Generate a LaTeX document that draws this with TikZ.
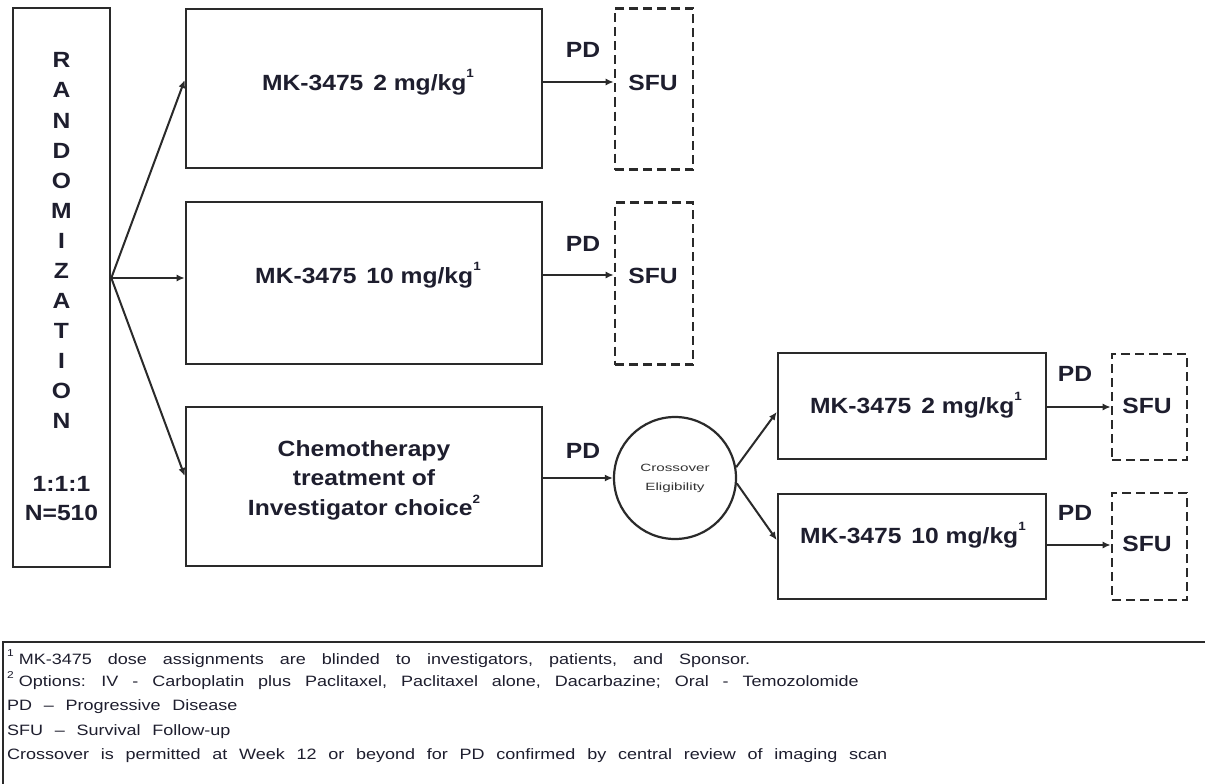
\documentclass[tikz,border=0pt]{standalone}
\usepackage{fontspec}
\setmainfont{Liberation Sans}[FakeStretch=1.12]
\newfontfamily\circfont{Liberation Sans}[FakeStretch=1.45]
\newfontfamily\footfont{Liberation Sans}[FakeStretch=1.2]
\usetikzlibrary{arrows.meta}
\definecolor{lc}{HTML}{2A2A2A}
\definecolor{tc}{HTML}{1E1E2E}
\definecolor{gc}{HTML}{333333}
\newcommand{\supone}[1]{\raisebox{0.55em}{\fontsize{12}{12}\selectfont #1}}
\newcommand{\supfoot}[1]{\raisebox{0.5em}{\fontsize{10}{10}\selectfont #1}\hspace{5pt}}
\newcommand{\footA}{\footfont\fontsize{15}{18}\selectfont\spaceskip 16pt\relax}
\newcommand{\footB}{\footfont\fontsize{15}{18}\selectfont\spaceskip 13.9pt\relax}
\newcommand{\footC}{\footfont\fontsize{15}{18}\selectfont\spaceskip 11.75pt\relax}
\begin{document}
\begin{tikzpicture}[x=1pt,y=-1pt,
  box/.style={draw=lc, line width=2.6pt, inner sep=0pt},
  sfubox/.style={draw=lc, line width=2.6pt, dash pattern=on 9pt off 5pt, inner sep=0pt},
  lab/.style={text=tc, font=\fontsize{22}{26}\selectfont\bfseries, inner sep=0pt, anchor=base},
  arr/.style={draw=lc, line width=2pt, -{Latex[length=8pt,width=7pt]}},
  foot/.style={text=tc, anchor=base west, inner sep=0pt, font=\footC}]
\useasboundingbox (0,0) rectangle (1205,784);
\fill[white] (0,0) rectangle (1205,784);

% randomization
\node[box, minimum width=97pt, minimum height=559pt] (rand) at (61.5,287.5) {};
\foreach \l [count=\i from 0] in {R,A,N,D,O,M,I,Z,A,T,I,O,N}
  \node[lab] (r\i) at (61.5, 68+30*\i) {\l};
\node[lab] (ratio) at (61.5, 491) {1:1:1};
\node[lab] (nn) at (61.5, 520) {N=510};

% arms
\node[box, minimum width=356pt, minimum height=159pt] (b1) at (364,88.5) {};
\node[box, minimum width=356pt, minimum height=162pt] (b2) at (364,283) {};
\node[box, minimum width=356pt, minimum height=159pt] (b3) at (364,486.5) {};
\node[lab] (t1) at (368,90) {MK-3475\hspace{0.45em}2 mg/kg\supone{1}};
\node[lab] (t2) at (368,283) {MK-3475\hspace{0.45em}10 mg/kg\supone{1}};
\node[lab, anchor=center, align=center, font=\fontsize{22}{29.5}\selectfont\bfseries] (t3) at (364,480)
  {Chemotherapy\\treatment of\\Investigator choice\supone{2}};

% SFU boxes
\node[sfubox, minimum width=78pt, minimum height=161pt] (s1) at (654,89) {};
\node[sfubox, minimum width=78pt, minimum height=162pt] (s2) at (654,283.5) {};
\node[lab] (sf1) at (653,90) {SFU};
\node[lab] (sf2) at (653,283) {SFU};

% PD labels
\node[lab] (pd1) at (583,58) {PD};
\node[lab] (pd2) at (583,251) {PD};
\node[lab] (pd3) at (583,458) {PD};
\node[lab] (pd4) at (1075,381) {PD};
\node[lab] (pd5) at (1075,520) {PD};

% circle
\node[draw=lc, line width=2.2pt, circle, minimum size=122pt, inner sep=0pt, align=center,
      text=gc, font=\circfont\fontsize{10.5}{19}\selectfont] (cx) at (675,478) {Crossover\\Eligibility};

% crossover arms
\node[box, minimum width=268pt, minimum height=106pt] (b4) at (912,406) {};
\node[box, minimum width=268pt, minimum height=105pt] (b5) at (912,546.5) {};
\node[lab] (t4) at (916,413) {MK-3475\hspace{0.45em}2 mg/kg\supone{1}};
\node[lab] (t5) at (913,543) {MK-3475\hspace{0.45em}10 mg/kg\supone{1}};
\node[sfubox, minimum width=75pt, minimum height=106pt] (s3) at (1149.5,407) {};
\node[sfubox, minimum width=75pt, minimum height=107pt] (s4) at (1149.5,546.5) {};
\node[lab] (sf3) at (1147,413) {SFU};
\node[lab] (sf4) at (1147,551) {SFU};

% connectors
\draw[arr] ([yshift=9.5pt]rand.east) -- ([yshift=8.5pt]b1.west);
\draw[arr] ([yshift=9.5pt]rand.east) -- ([yshift=5pt]b2.west);
\draw[arr] ([yshift=9.5pt]rand.east) -- ([yshift=10.5pt]b3.west);
\draw[arr] ([yshift=6.5pt]b1.east) -- ([yshift=7pt]s1.west);
\draw[arr] ([yshift=8pt]b2.east) -- ([yshift=8.5pt]s2.west);
\draw[arr] ([yshift=8.5pt]b3.east) -- (cx.west);
\draw[arr] (cx.10) -- ([yshift=-6pt]b4.west);
\draw[arr] (cx.-5) -- ([yshift=6.5pt]b5.west);
\draw[arr] ([yshift=-1pt]b4.east) -- (s3.west);
\draw[arr] ([yshift=1.5pt]b5.east) -- ([yshift=1.5pt]s4.west);

% footnote
\begin{scope}
\clip (0,0) rectangle (1205,784);
\node[draw=lc, line width=2.6pt, minimum width=1212pt, minimum height=156pt, inner sep=0pt] (fn) at (609,720) {};
\node[foot, font=\footA] (f1) at (7,664) {\supfoot{1}MK-3475 dose assignments are blinded to investigators, patients, and Sponsor.};
\node[foot, font=\footB] (f2) at (7,686) {\supfoot{2}Options: IV - Carboplatin plus Paclitaxel, Paclitaxel alone, Dacarbazine; Oral - Temozolomide};
\node[foot] (f3) at (7,710) {PD – Progressive Disease};
\node[foot] (f4) at (7,735) {SFU – Survival Follow-up};
\node[foot] (f5) at (7,759) {Crossover is permitted at Week 12 or beyond for PD confirmed by central review of imaging scan};
\end{scope}
\end{tikzpicture}
\end{document}
